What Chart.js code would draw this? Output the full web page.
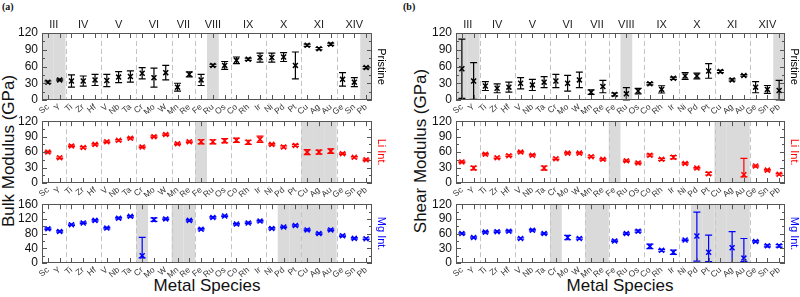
<!DOCTYPE html>
<html>
<head>
<meta charset="utf-8">
<script src="https://cdn.jsdelivr.net/npm/chart.js@4.4.1/dist/chart.umd.min.js"></script>
<style>
  body { margin: 0; background: #fff; width: 800px; height: 297px; overflow: hidden; position: relative;
         font-family: "Liberation Sans", Arial, sans-serif; }
  canvas { position: absolute; }
  .t { position: absolute; white-space: nowrap; font-size: 17px; color: #111; transform: translate(-50%, -50%); }
  .v { transform: translate(-50%, -50%) rotate(-90deg); }
  .p { position: absolute; font: bold 10px "Liberation Serif", "DejaVu Serif", serif; color: #111; }
</style>
</head>
<body>
<div class="p" style="left:2px;top:1px">(a)</div>
<div class="p" style="left:403px;top:1px">(b)</div>
<div class="t v" style="left:9px;top:151px">Bulk Modulus (GPa)</div>
<div class="t v" style="left:421px;top:151px">Shear Modulus (GPa)</div>
<div class="t" style="left:207px;top:286px">Metal Species</div>
<div class="t" style="left:620px;top:286px">Metal Species</div>

<canvas id="a1"></canvas><canvas id="a2"></canvas><canvas id="a3"></canvas>
<canvas id="b1"></canvas><canvas id="b2"></canvas><canvas id="b3"></canvas>

<script>
const categories = ["Sc", "Y", "Ti", "Zr", "Hf", "V", "Nb", "Ta", "Cr", "Mo", "W", "Mn", "Re", "Fe",
  "Ru", "Os", "Co", "Rh", "Ir", "Ni", "Pd", "Pt", "Cu", "Ag", "Au", "Ge", "Sn", "Pb"];
const groupNames = ["III", "IV", "V", "VI", "VII", "VIII", "IX", "X", "XI", "XIV"];
const groupSizes = [2, 3, 3, 3, 2, 3, 3, 3, 3, 3];

// bulk modulus (GPa); errors are +/- or [down, up]
const bulkPristine = [32, 36, 34, 34, 36, 35, 41, 42, 48, 40, 49, 23, 46, 36, 62, 62, 71, 73, 76, 76, 77, 62, 98, 92, 100, 37, 32, 58];
const bulkPristineErr = [2, 1.5, 11, 9, 10, 11, 10, 10, 10, 17, 13, 7, 4.5, 10, 2, 7, 6, 2, 8, 8, 8, 24, 2, 2, 2, 12, 8, 2];
const bulkLi = [60, 49, 72, 69, 75, 80, 83, 87, 70, 90, 94, 76, 80, 80, 80, 82, 83, 79, 85, 75, 70, 73, 60, 60, 62, 57, 50, 45];
const bulkLiErr = [1.5, 1.5, 1.5, 1.5, 1.5, 1.5, 1.5, 1.5, 1.5, 1.5, 1.5, 1.5, 1.5, 4, 4, 4, 4, 4, 6, 1.5, 2, 2, 5, 4, 4.5, 1.5, 1.5, 1.5];
const bulkMg = [93, 86, 104, 109, 116, 95, 122, 127, 20, 118, 120, null, 116, 92, 124, 128, 106, 109, 114, 94, 98, 102, 90, 80, 90, 74, 67, 66];
const bulkMgErr = [2, 2, 2, 2, 2, 2, 2, 2, [6, 50], 5, 2, null, 2, 2, 2, 2, 2, 2, 2, 2, 2, 2, 2, 2, 2, 2, 2, 2];

// shear modulus (GPa)
const shearPristine = [56, 34, 25, 21, 23, 30, 27, 32, 34, 30, 36, 14, 24, 10, 11, 16, 29, 19, 39, 43, 43, 52, 51, 36, 44, 23, 19, 17];
const shearPristineErr = [53, 33, 8, 8, 9, 10, 10, 10, 12, 14, 14, 4, 11, 2.5, 11, 5, 2, 6.5, 2, 6, 5, 13, 2, 2, 1.5, 10, 7, 18];
const shearLi = [41, 29, 56, 49, 53, 60, 54, 29, 47, 58, 58, 51, 46, null, 43, 39, 54, 46, 50, 38, 29, 18, null, null, 16, 33, 25, 17];
const shearLiErr = [1.5, 3.5, 1.5, 1.5, 1.5, 1.5, 1.5, 4, 1.5, 1.5, 1.5, 1.5, 1.5, null, 1.5, 1.5, 2, 2, 3, 1.5, 1.5, 2.5, null, null, [4, 32], 1.5, 1.5, 1.5];
const shearMg = [60, 52, 63, 64, 65, 50, 67, 60, null, 52, 50, null, null, 45, 60, 65, 34, 26, 22, 47, 55, 22, null, 31, 10, 44, 35, 35];
const shearMgErr = [1.5, 1.5, 1.5, 1.5, 1.5, 1.5, 1.5, 1.5, null, 4.5, 1.5, null, null, 1.5, 1.5, 2, 4.5, 2, 4.5, 1.5, [51, 49], [19, 35], null, [30, 33], [7, 40], 1.5, 2, 2.5];

const pristineShade = ["Sc", "Y", "Ru", "Pb"];
const liShade = ["Fe", "Cu", "Ag", "Au"];
const mgShade = ["Cr", "Mn", "Re", "Pd", "Pt", "Cu", "Ag", "Au"];

Chart.defaults.font.family = '"Liberation Sans", Arial, sans-serif';

function decor(row) {
  return {
    id: "decor",
    beforeDatasetsDraw(chart) {
      const { ctx, chartArea: a, scales: { x } } = chart;
      const step = x.getPixelForValue(1) - x.getPixelForValue(0);
      ctx.save();
      ctx.fillStyle = "#dadada";
      row.shade.forEach((c) => {
        const px = x.getPixelForValue(categories.indexOf(c));
        ctx.fillRect(px - step / 2, a.top, step, a.bottom - a.top);
      });
      ctx.strokeStyle = "#c4c4c4";
      ctx.lineWidth = 1;
      ctx.setLineDash([5, 3]);
      let idx = 0;
      groupSizes.slice(0, -1).forEach((n) => {
        idx += n;
        const px = Math.round(x.getPixelForValue(idx) - step / 2) + 0.5;
        ctx.beginPath();
        ctx.moveTo(px, a.top);
        ctx.lineTo(px, a.bottom);
        ctx.stroke();
      });
      ctx.restore();
    },
    afterDatasetsDraw(chart) {
      const { ctx, chartArea: a, scales: { x, y } } = chart;
      ctx.save();
      // error bars
      ctx.strokeStyle = row.color;
      ctx.lineWidth = 1.2;
      row.values.forEach((v, i) => {
        if (v == null) return;
        const e = row.err[i];
        const [dn, up] = Array.isArray(e) ? e : [e, e];
        const px = x.getPixelForValue(i);
        const y1 = y.getPixelForValue(Math.max(y.min, v - dn));
        const y2 = y.getPixelForValue(Math.min(y.max, v + up));
        ctx.beginPath();
        ctx.moveTo(px, y1); ctx.lineTo(px, y2);
        ctx.moveTo(px - 3.5, y1); ctx.lineTo(px + 3.5, y1);
        ctx.moveTo(px - 3.5, y2); ctx.lineTo(px + 3.5, y2);
        ctx.stroke();
      });
      // frame and inward ticks
      ctx.strokeStyle = "#555";
      ctx.lineWidth = 1;
      ctx.strokeRect(Math.round(a.left) + 0.5, Math.round(a.top) + 0.5,
        Math.round(a.right - a.left) - 1, Math.round(a.bottom - a.top) - 1);
      ctx.beginPath();
      categories.forEach((c, i) => {
        const px = Math.round(x.getPixelForValue(i)) + 0.5;
        ctx.moveTo(px, a.top); ctx.lineTo(px, a.top + 5);
        ctx.moveTo(px, a.bottom); ctx.lineTo(px, a.bottom - 5);
      });
      const vals = y.ticks.map((t) => t.value);
      vals.forEach((v, i) => {
        const py = Math.round(y.getPixelForValue(v)) + 0.5;
        ctx.moveTo(a.left, py); ctx.lineTo(a.left + 5, py);
        ctx.moveTo(a.right, py); ctx.lineTo(a.right - 5, py);
        if (i < vals.length - 1) {
          const pm = Math.round(y.getPixelForValue((v + vals[i + 1]) / 2)) + 0.5;
          ctx.moveTo(a.left, pm); ctx.lineTo(a.left + 3, pm);
          ctx.moveTo(a.right, pm); ctx.lineTo(a.right - 3, pm);
        }
      });
      ctx.stroke();
      // side label
      ctx.fillStyle = row.color;
      ctx.font = '11px "Liberation Sans", Arial, sans-serif';
      ctx.textAlign = "center";
      ctx.textBaseline = "middle";
      ctx.translate(a.right + 9, (a.top + a.bottom) / 2);
      ctx.rotate(Math.PI / 2);
      ctx.fillText(row.side, 0, 0);
      ctx.setTransform(1, 0, 0, 1, 0, 0);
      // group names above the top row
      if (row.groups) {
        ctx.fillStyle = "#222";
        let start = 0;
        groupNames.forEach((g, k) => {
          const n = groupSizes[k];
          const px = (x.getPixelForValue(start) + x.getPixelForValue(start + n - 1)) / 2;
          ctx.fillText(g, px, a.top - 8);
          start += n;
        });
      }
      ctx.restore();
    },
  };
}

const rowBoxes = [
  { top: 14, h: 100, pad: 19, xh: 14 },
  { top: 110, h: 87, pad: 4, xh: 14 },
  { top: 193, h: 86, pad: 4, xh: 16 },
];
const panelBoxes = { a: { left: 0, yw: 42, padR: 28 }, b: { left: 400, yw: 56, padR: 15 } };

function makeRow(id, panel, r, row) {
  const pb = panelBoxes[panel], rb = rowBoxes[r];
  const cv = document.getElementById(id);
  cv.width = 400; cv.height = rb.h;
  cv.style.left = pb.left + "px"; cv.style.top = rb.top + "px";
  new Chart(cv, {
    type: "line",
    data: {
      labels: categories,
      datasets: [{
        data: row.values,
        showLine: false,
        pointStyle: "crossRot",
        pointRadius: 3.5,
        borderWidth: 1.5,
        borderColor: row.color,
        backgroundColor: row.color,
      }],
    },
    options: {
      responsive: false,
      animation: false,
      layout: { padding: { top: rb.pad, right: pb.padR, left: 0, bottom: 0 } },
      plugins: { legend: { display: false }, tooltip: { enabled: false } },
      scales: {
        x: {
          type: "category",
          offset: true,
          grid: { display: false, drawTicks: false },
          border: { display: false },
          ticks: { autoSkip: false, minRotation: 40, maxRotation: 40, padding: 2, color: "#333", font: { size: 8.5 } },
          afterFit: (s) => { s.height = rb.xh; },
        },
        y: {
          min: 0,
          max: row.max,
          grid: { display: false, drawTicks: false },
          border: { display: false },
          ticks: { autoSkip: false, stepSize: row.step, padding: 4, color: "#111", font: { size: 12 } },
          afterFit: (s) => { s.width = pb.yw; },
        },
      },
    },
    plugins: [decor(row)],
  });
}

makeRow("a1", "a", 0, { values: bulkPristine, err: bulkPristineErr, color: "#000", shade: pristineShade, max: 120, step: 30, side: "Pristine", groups: true });
makeRow("a2", "a", 1, { values: bulkLi, err: bulkLiErr, color: "#ff0000", shade: liShade, max: 120, step: 30, side: "Li Int." });
makeRow("a3", "a", 2, { values: bulkMg, err: bulkMgErr, color: "#0000ff", shade: mgShade, max: 160, step: 40, side: "Mg Int." });
makeRow("b1", "b", 0, { values: shearPristine, err: shearPristineErr, color: "#000", shade: pristineShade, max: 120, step: 30, side: "Pristine", groups: true });
makeRow("b2", "b", 1, { values: shearLi, err: shearLiErr, color: "#ff0000", shade: liShade, max: 120, step: 30, side: "Li Int." });
makeRow("b3", "b", 2, { values: shearMg, err: shearMgErr, color: "#0000ff", shade: mgShade, max: 120, step: 30, side: "Mg Int." });
</script>
</body>
</html>
